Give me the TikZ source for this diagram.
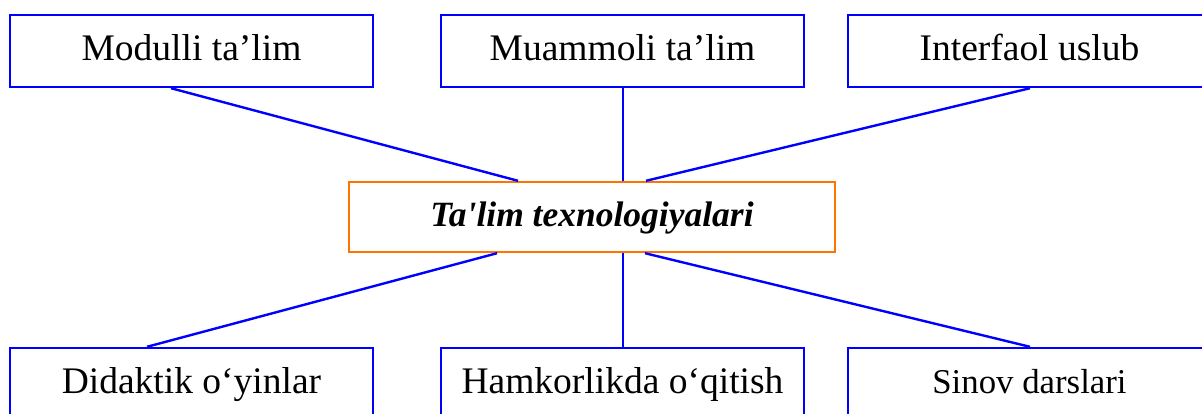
\documentclass[tikz,border=0pt]{standalone}
\usepackage{fontspec}
\setmainfont{Liberation Serif}
\begin{document}
\begin{tikzpicture}[x=1pt,y=-1pt,
  box/.style={draw=blue, line width=2.4pt, minimum width=363pt, minimum height=72pt,
    inner sep=0pt, text height=25pt, text depth=7pt, font=\fontsize{37.5}{40}\selectfont},
  hub/.style={draw=orange!90!red, line width=2.4pt, minimum width=486pt, minimum height=70pt,
    inner sep=0pt, text height=25pt, text depth=7pt, font=\fontsize{35.5}{40}\selectfont\bfseries\itshape},
  link/.style={draw=blue, line width=2.4pt}]
\useasboundingbox (0,0) rectangle (1202,413);
\node[box] (m1) at (191.5,51) {Modulli ta’lim};
\node[box] (m2) at (622.5,51) {Muammoli ta’lim};
\node[box] (m3) at (1029.5,51) {Interfaol uslub};
\node[hub] (c) at (592,217) {Ta\textquotesingle lim texnologiyalari};
\node[box] (b1) at (191.5,384) {Didaktik o‘yinlar};
\node[box] (b2) at (622.5,384) {Hamkorlikda o‘qitish};
\node[box, font=\fontsize{34.8}{38}\selectfont] (b3) at (1029.5,384) {Sinov darslari};
\draw[link] (m1.south -| 171,0) -- (c.north -| 518,0);
\draw[link] (m2.south -| 623,0) -- (c.north -| 623,0);
\draw[link] (m3.south -| 1030,0) -- (c.north -| 646,0);
\draw[link] (c.south -| 497,0) -- (b1.north -| 147,0);
\draw[link] (c.south -| 623,0) -- (b2.north -| 623,0);
\draw[link] (c.south -| 645,0) -- (b3.north -| 1030,0);
\end{tikzpicture}
\end{document}
